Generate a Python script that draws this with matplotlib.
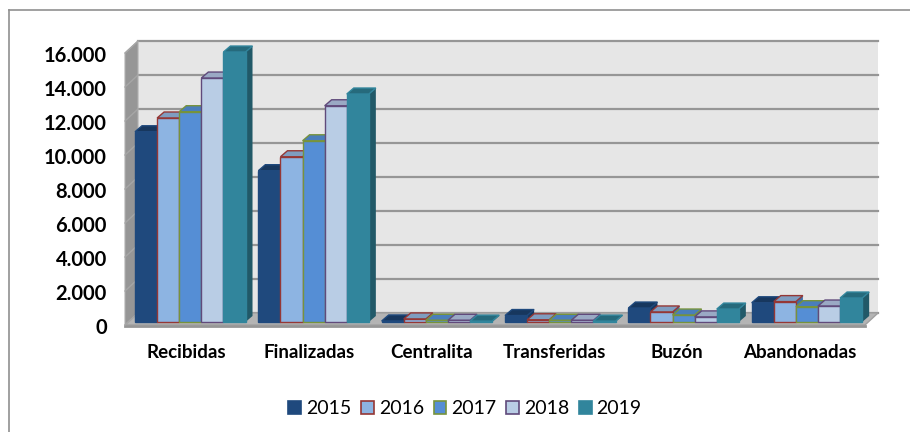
import matplotlib
matplotlib.use('Agg')
import matplotlib.pyplot as plt
from matplotlib.patches import Polygon, Patch
from matplotlib.lines import Line2D
from matplotlib.ticker import FuncFormatter
from matplotlib.transforms import ScaledTranslation

categories = ["Recibidas", "Finalizadas", "Centralita", "Transferidas", "Buzón", "Abandonadas"]
years = ["2015", "2016", "2017", "2018", "2019"]
v2015 = [11190, 8900, 60, 380, 820, 1130]
v2016 = [12000, 9720, 180, 130, 590, 1200]
v2017 = [12370, 10660, 100, 100, 410, 900]
v2018 = [14350, 12720, 100, 100, 300, 940]
v2019 = [15880, 13410, 50, 50, 760, 1410]
series = [v2015, v2016, v2017, v2018, v2019]

face = ["#1F497D", "#8DB4E2", "#558ED5", "#B9CDE5", "#31859C"]
edge = ["#1F497D", "#953735", "#77933C", "#604A7B", "#31859C"]
top = ["#17375E", "#7F9DC0", "#4A7EBB", "#9AA9C4", "#266A7C"]
side = ["#17375E", "#3F6FA8", "#3A6CAD", "#7F8FB5", "#215968"]

fig = plt.figure(figsize=(9.1, 4.32), dpi=100)
plt.rcParams['font.family'] = ['Lato', 'DejaVu Sans']
W, H = 910., 432.
# front plane of the box, in pixels
ax = fig.add_axes([125 / W, 1 - 325 / H, 740 / W, 272 / H])
ax.set_xlim(-0.5, 5.5)
ax.set_ylim(0, 16000)
ax.patch.set_visible(False)

# depth of the box and of the bars, in data units
per_x = 740 / 6.
per_y = 272 / 16000.
box_dx = 13 / per_x
box_dy = 12 / per_y
bar_dx = 7 / per_x
bar_dy = 6 / per_y
bar_w = 22.1 / per_x
base = 3 / per_y
x0 = -0.5
x1 = 5.5
ymax = 16000


def poly(pts, fc, ec='none', lw=0, z=1):
    ax.add_patch(Polygon(pts, closed=True, fc=fc, ec=ec, lw=lw, zorder=z, clip_on=False, joinstyle='miter'))


# walls and floor
poly([(x0 + box_dx, box_dy), (x1 + box_dx, box_dy), (x1 + box_dx, ymax + box_dy), (x0 + box_dx, ymax + box_dy)], "#E6E6E6")
poly([(x0, 0), (x0 + box_dx, box_dy), (x0 + box_dx, ymax + box_dy), (x0, ymax)], "#969696", "#B0B0B0", 0.8, 2)
poly([(x0, 0), (x1, 0), (x1 + box_dx, box_dy), (x0 + box_dx, box_dy)], "#B4B4B4", "#A0A0A0", 1.0, 2)
ax.plot([x0, x1], [-40, -40], color="#969696", lw=2, zorder=2, clip_on=False)
for t in range(0, ymax + 1, 2000):
    ax.plot([x0 + box_dx, x1 + box_dx], [t + box_dy, t + box_dy], color="#969696", lw=1.6, zorder=1.5, clip_on=False)
    ax.plot([x0, x0 + box_dx], [t, t + box_dy], color="#A6A6A6", lw=1.0, zorder=2.5, clip_on=False)

# bars
for c in range(len(categories)):
    start = c - 2.5 * bar_w + 3.6 / per_x
    for s in range(len(years)):
        v = series[s][c]
        l = start + s * bar_w
        r = l + bar_w
        b = base
        t = base + v
        z = 5 + c * 10 + s
        poly([(r, b), (r + bar_dx, b + bar_dy), (r + bar_dx, t + bar_dy), (r, t)], side[s], z=z)
        poly([(l, t), (r, t), (r + bar_dx, t + bar_dy), (l + bar_dx, t + bar_dy)], top[s], edge[s], 1.0, z + 0.1)
        poly([(l, b), (r, b), (r, t), (l, t)], face[s], edge[s], 1.0, z + 0.2)

# axes text, the labels sit a bit closer together than the bars
ax.set_xticks([c * 122.6 / per_x for c in range(len(categories))])
ax.set_xticklabels(categories, fontsize=13.5, fontweight='bold', color='black')
ax.set_yticks(range(0, ymax + 1, 2000))
ax.yaxis.set_major_formatter(FuncFormatter(lambda v, p: f"{int(v):,}".replace(",", ".")))
ax.tick_params(axis='y', length=0, pad=13, labelsize=14.5)
ax.tick_params(axis='x', length=0, pad=14)
down = ScaledTranslation(0, -0.8 / 72, fig.dpi_scale_trans)
for lab in ax.get_yticklabels():
    lab.set_fontweight('bold')
    lab.set_transform(lab.get_transform() + down)
for s in ax.spines.values():
    s.set_visible(False)

# legend
handles = [Patch(fc=face[i], ec=edge[i], lw=1.2, label=years[i]) for i in range(len(years))]
fig.legend(handles=handles, loc='center', bbox_to_anchor=(465 / W, 1 - 409 / H), ncol=5, frameon=False,
           fontsize=14, handlelength=0.65, handleheight=0.65, handletextpad=0.25, columnspacing=0.51)

# chart border, only top and left are in the crop
fig.add_artist(Line2D([9 / W, 9 / W], [0, 1 - 10 / H], color='#909090', lw=1.2))
fig.add_artist(Line2D([9 / W, 1], [1 - 10 / H, 1 - 10 / H], color='#909090', lw=1.2))

fig.savefig("out.png", dpi=100)
